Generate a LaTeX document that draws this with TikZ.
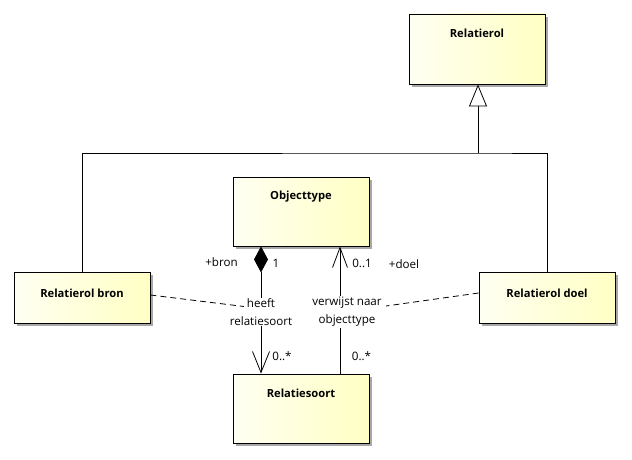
\documentclass[tikz,border=0pt]{standalone}
\usepackage{fontspec}
\setmainfont{Open Sans}
\usetikzlibrary{arrows.meta,shadows}
\definecolor{boxL}{HTML}{FFFFF2}
\definecolor{boxR}{HTML}{FFFFC4}
\definecolor{shad}{HTML}{A8A8A8}
\begin{document}
\begin{tikzpicture}[x=1pt,y=-1pt,
  umlbox/.style={draw=black, line width=0.9pt, left color=boxL, right color=boxR,
    shading angle=90,
    drop shadow={shadow xshift=3pt, shadow yshift=-3pt, fill=shad, opacity=1},
    minimum width=136pt, inner sep=0pt},
  boxtitle/.style={font=\fontsize{11.2}{13}\selectfont\bfseries},
  conn/.style={line width=0.8pt},
  dashconn/.style={line width=0.8pt, dash pattern=on 6pt off 4pt},
  lbl/.style={font=\fontsize{11.6}{18}\selectfont, inner sep=0pt},
  assoclbl/.style={font=\fontsize{11.6}{18}\selectfont, align=center, fill=white, inner sep=1pt},
  bigbox/.style={umlbox, minimum height=70pt},
  smallbox/.style={umlbox, minimum height=51pt}
]
\useasboundingbox (0,0) rectangle (632,460);

\node[bigbox, label={[boxtitle, anchor=center, yshift=-20pt]north:Relatierol}] (rel) at (477,49) {};
\node[bigbox, minimum height=69pt, label={[boxtitle, anchor=center, yshift=-20pt]north:Objecttype}] (obj) at (301,211.5) {};
\node[smallbox, label={[boxtitle, anchor=center, yshift=-22pt]north:Relatierol bron}] (bron) at (82,297.5) {};
\node[smallbox, label={[boxtitle, anchor=center, yshift=-22pt]north:Relatierol doel}] (doel) at (547,297.5) {};
\node[bigbox, minimum height=69pt, label={[boxtitle, anchor=center, yshift=-20pt]north:Relatiesoort}] (soort) at (301,408.5) {};

% generalization
\coordinate (j) at (478,153);
\draw[conn, -{Triangle[open, length=22pt, width=18pt, fill=white]}]
  (j) -- (rel.south -| j);
\draw[conn] (bron.north) |- (j) -| (doel.north);

% composition: heeft relatiesoort
\draw[conn, {Diamond[length=26pt, width=14pt, fill=black]}-{Straight Barb[length=21pt, width=17pt, line width=0.8pt]}]
  (obj.south -| 261,0) -- (soort.north -| 261,0);
\node[assoclbl] (heeft) at (261,312) {heeft\\relatiesoort};

% association: verwijst naar objecttype
\draw[conn, -{Straight Barb[length=20pt, width=15pt, line width=0.8pt]}]
  (soort.north -| 340,0) -- (obj.south -| 340,0);
\node[assoclbl] (verw) at (347,312) {verwijst naar\\objecttype};

% association class dashed links
\coordinate (hl) at (244,306.5);
\coordinate (vr) at (386,306);
\draw[dashconn] ([yshift=2.5pt]bron.east) -- (hl);
\draw[dashconn] ([yshift=4.5pt]doel.west) -- (vr);

% role names and multiplicities
\node[lbl] (rbron) at (221.5,262) {+bron};
\node[lbl] (m1) at (276,263) {1};
\node[lbl] (m01) at (362,263) {0..1};
\node[lbl] (rdoel) at (404,264) {+doel};
\node[lbl] (mn1) at (282,356) {0..*};
\node[lbl] (mn2) at (361.5,356) {0..*};
\end{tikzpicture}
\end{document}
